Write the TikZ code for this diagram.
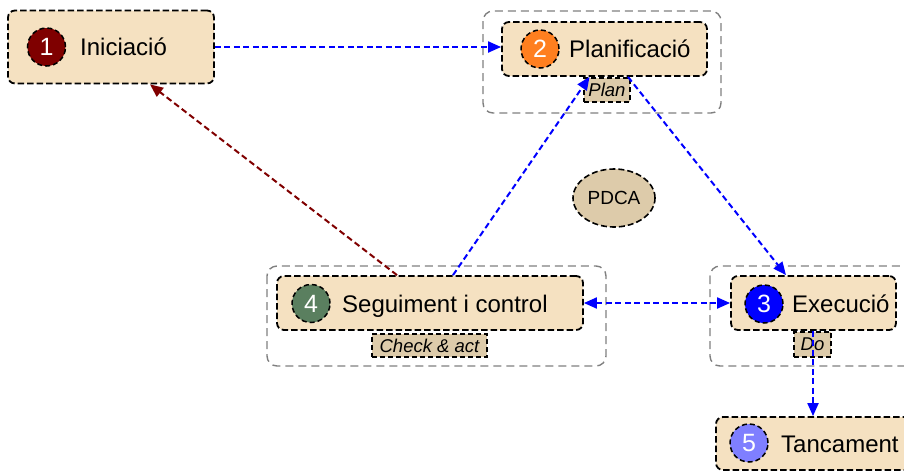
\documentclass[tikz,border=0pt]{standalone}
\usepackage{fontspec}
\setmainfont{Liberation Sans}
\usetikzlibrary{arrows.meta,shapes.geometric}
\definecolor{boxfill}{HTML}{F5E1C1}
\definecolor{tagfill}{HTML}{DDCBAA}
\definecolor{cone}{HTML}{7F0000}
\definecolor{ctwo}{HTML}{FF7F1F}
\definecolor{cthree}{HTML}{0000FF}
\definecolor{cfour}{HTML}{5A7F5F}
\definecolor{cfive}{HTML}{7F7FFF}
\definecolor{darkred}{HTML}{800000}
\definecolor{linkblue}{HTML}{0000FF}
\tikzset{
  box/.style={draw=black, fill=boxfill, line width=1.8pt, dash pattern=on 6.5pt off 3pt, rounded corners=7pt, inner sep=0pt},
  outerbox/.style={draw=gray, line width=1.4pt, dash pattern=on 8pt off 5pt, rounded corners=10pt},
  tagbox/.style={draw=black, fill=tagfill, line width=1.5pt, dash pattern=on 5pt off 3pt, inner sep=0pt, font=\fontsize{18.5}{20}\selectfont\itshape},
  numc/.style={circle, draw=black, line width=1.5pt, dash pattern=on 5pt off 3pt, minimum size=38pt, inner sep=0pt, text=white, font=\fontsize{25}{27}\selectfont},
  lbl/.style={anchor=base west, inner sep=0pt, font=\fontsize{24}{26}\selectfont},
  tip/.tip={Triangle[length=13pt,width=11pt]},
  conn/.style={color=linkblue, line width=2pt, dash pattern=on 6pt off 3.5pt, -tip},
  connr/.style={color=darkred, line width=2pt, dash pattern=on 6pt off 3.5pt, -tip},
}
\begin{document}
\begin{tikzpicture}[x=1pt,y=-1pt]
\useasboundingbox (0,0) rectangle (904,472);
\clip (0,0) rectangle (904,472);
% outer grey groups
\draw[outerbox] (483,11) rectangle (721,113);
\draw[outerbox] (267,266) rectangle (606,366);
\draw[outerbox] (710,266) rectangle (918,366);
% main boxes
\node[box, minimum width=206pt, minimum height=73pt] (ini) at (111,47) {};
\node[box, minimum width=205pt, minimum height=54pt] (plan) at (604.5,49) {};
\node[box, minimum width=306pt, minimum height=54pt] (seg) at (430,303) {};
\node[box, minimum width=165pt, minimum height=54pt] (exe) at (813.5,303) {};
\node[box, minimum width=200pt, minimum height=53pt] (tan) at (816,443.5) {};
% circles
\node[numc, fill=cone] (c1) at (46.5,47) {1};
\node[numc, fill=ctwo] (c2) at (540,49) {2};
\node[numc, fill=cfour] (c4) at (311,303.5) {4};
\node[numc, fill=cthree] (c3) at (764,304) {3};
\node[numc, fill=cfive] (c5) at (749,443) {5};
% labels
\node[lbl] (t1) at (80,55.5) {Iniciació};
\node[lbl] (t2) at (569,57.5) {Planificació};
\node[lbl] (t4) at (342,312) {Seguiment i control};
\node[lbl] (t3) at (792,312.5) {Execució};
\node[lbl] (t5) at (781,452) {Tancament};
% tags
\node[tagbox, minimum width=46pt, minimum height=24pt] (tplan) at (607,90) {Plan};
\node[tagbox, minimum width=115pt, minimum height=23pt] (tcheck) at (429.5,345.5) {Check \& act};
\node[tagbox, minimum width=37pt, minimum height=25pt] (tdo) at (812.5,344.5) {Do};
% PDCA
\node[ellipse, draw=black, fill=tagfill, line width=1.6pt, dash pattern=on 6pt off 3pt, minimum width=82pt, minimum height=58pt, inner sep=0pt, font=\fontsize{19}{21}\selectfont] (pdca) at (614,198) {PDCA};
% connectors
\draw[conn] (ini.east) -- (ini.east -| plan.west);
\draw[conn] ([xshift=23.5pt]plan.south) -- ([xshift=-27.5pt]exe.north);
\draw[conn] ([xshift=23pt]seg.north) -- ([xshift=-15pt]plan.south);
\draw[connr] ([xshift=-33pt]seg.north) -- ([xshift=39pt]ini.south);
\draw[conn, tip-tip] (seg.east) -- (exe.west);
\draw[conn] ([xshift=-0.5pt]exe.south) -- ([xshift=-0.5pt]exe.south |- tan.north);
\end{tikzpicture}
\end{document}
